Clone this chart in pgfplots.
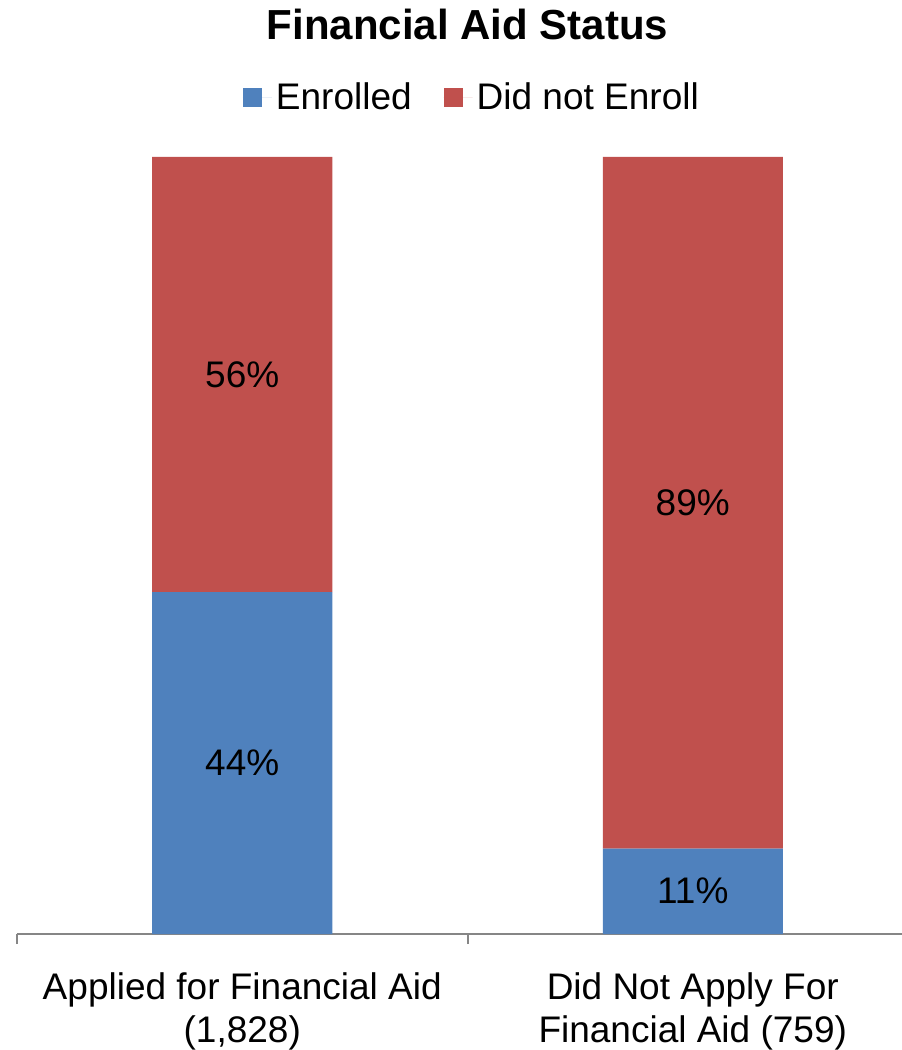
\documentclass[border=0pt]{standalone}
\usepackage{pgfplots}
\pgfplotsset{compat=1.18}
\usepackage{fontspec}
\setmainfont{Liberation Sans}
\definecolor{enr}{HTML}{4F81BD}
\definecolor{notenr}{HTML}{C0504D}
\definecolor{axisgray}{HTML}{868686}

\begin{document}
\begin{tikzpicture}
\begin{axis}[
  at={(0,0)}, anchor=south west,
  scale only axis,
  width=450.5pt, height=388.5pt,
  ybar stacked,
  bar width=90pt,
  xmin=-0.5, xmax=1.5,
  ymin=0, ymax=100,
  xtick={0,1},
  xticklabels={{Applied for Financial Aid\\(1,828)},{Did Not Apply For\\Financial Aid (759)}},
  xticklabel style={align=center, font=\fontsize{18.5}{21.5}\selectfont, yshift=-16pt},
  major tick length=0pt,
  minor xtick={-0.5,0.5,1.5},
  minor tick length=5pt,
  xtick align=outside,
  tick style={axisgray, line width=1pt},
  axis x line*=bottom,
  axis y line=none,
  x axis line style={axisgray, line width=1pt, -},
  ytick=\empty,
  clip=false,
  title={Financial Aid Status},
  title style={font=\bfseries\fontsize{21}{25}\selectfont, at={(axis description cs:0.5,1)}, anchor=base, yshift=52.5pt},
  legend columns=2,
  legend style={draw=none, fill=none, at={(axis description cs:0.506,1)}, anchor=center, yshift=29.5pt,
    font=\fontsize{18.5}{21.5}\selectfont,
    /tikz/every even column/.append style={column sep=14pt}},
  legend image code/.code={\draw[#1,draw=none] (0pt,-4.75pt) rectangle (9.5pt,4.75pt); \path (0pt,0pt) -- (14.5pt,0pt);},
  visualization depends on={rawy \as \rawy},
  nodes near coords={\pgfmathprintnumber[assume math mode=true]{\rawy}\%},
  every node near coord/.append style={anchor=center, font=\fontsize{18.5}{21.5}\selectfont, black},
]
\addplot[fill=enr, draw=none] coordinates {(0,44) (1,11)};
\addplot[fill=notenr, draw=none] coordinates {(0,56) (1,89)};
\legend{Enrolled, Did not Enroll}
\end{axis}
\pgfresetboundingbox
\path[use as bounding box] (-8.5pt,-58pt) rectangle (442pt,467pt);
\end{tikzpicture}
\end{document}
